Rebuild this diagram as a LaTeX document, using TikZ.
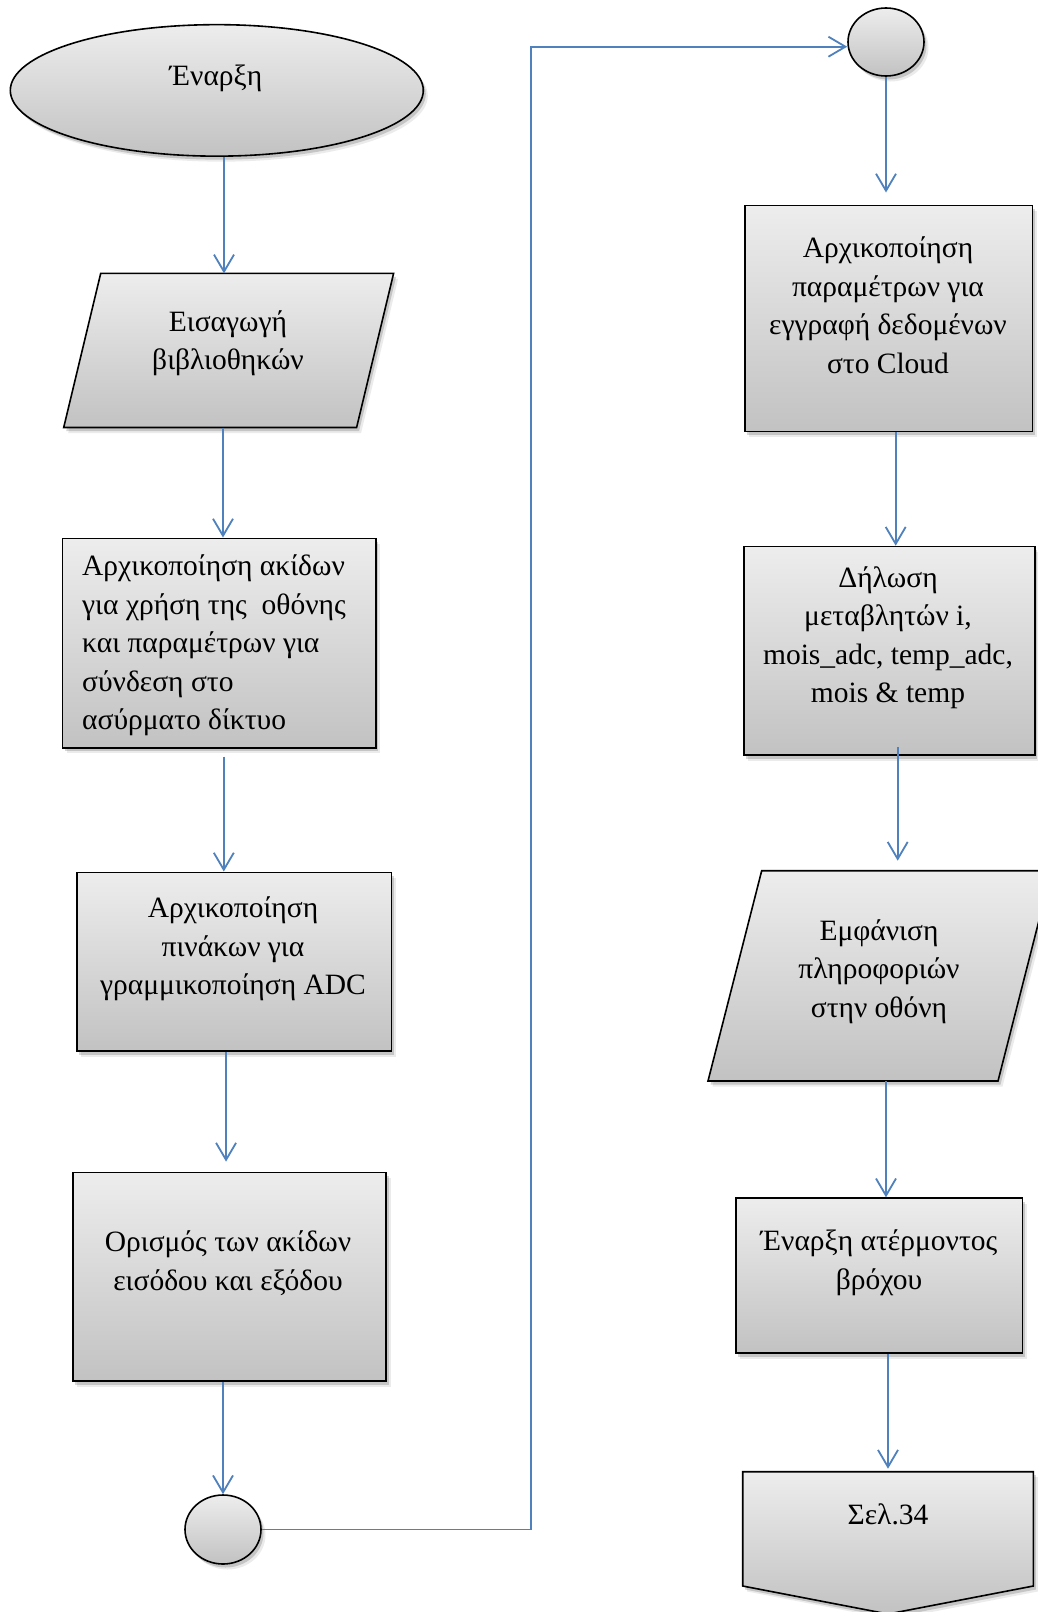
\documentclass[tikz,border=0pt]{standalone}
\usepackage{fontspec}
\setmainfont{Liberation Serif}
\usetikzlibrary{arrows.meta,shapes.geometric,shadows}
\definecolor{arrblue}{HTML}{4F81BD}
\definecolor{gtop}{HTML}{EDEDED}
\definecolor{gbot}{HTML}{C2C2C2}
\begin{document}
\begin{tikzpicture}[x=1pt,y=-1pt,
  arr/.style={draw=arrblue, line width=1.8pt, -{Straight Barb[length=17pt,width=20pt,line width=1.8pt]}},
  shp/.style={draw=black, line width=1.6pt, top color=gtop, bottom color=gbot,
    drop shadow={shadow xshift=2.5pt,shadow yshift=-3.5pt,opacity=0.16,fill=black},
    drop shadow={shadow xshift=4.5pt,shadow yshift=-5.5pt,opacity=0.08,fill=black}},
  boxnode/.style={shp, rectangle, inner sep=0pt, anchor=north west},
  ovalnode/.style={shp, ellipse, inner sep=0pt},
  txt/.style={font=\fontsize{29.5}{38.5}\selectfont, align=center, inner sep=0pt, text=black}]
\useasboundingbox (0,0) rectangle (1038,1612);
\fill[white] (0,0) rectangle (1038,1612);
\clip (0,0) rectangle (1038,1612);

% ---- left column ----
\node[ovalnode, minimum width=413pt, minimum height=131.5pt] (ell) at (216.8,90.4) {};
\node[txt] (tell) at (216,78) {Έναρξη};

\path[shp] (100.7,273.4) -- (393.6,273.4) -- (356.6,427.5) -- (63.7,427.5) -- cycle;
\coordinate (p1n) at (224,273.4);
\coordinate (p1s) at (223,427.5);
\node[txt] (tp1) at (228,343) {Εισαγωγή\\βιβλιοθηκών};

\node[boxnode, minimum width=313.4pt, minimum height=209.6pt] (b2) at (61.7,537.5) {};
\node[txt, align=left, anchor=west] (tb2) at (82,645.5) {Αρχικοποίηση ακίδων\\για χρήση της~ οθόνης\\και παραμέτρων για\\σύνδεση στο\\ασύρματο δίκτυο};

\node[boxnode, minimum width=314.5pt, minimum height=178.8pt] (b3) at (76,871.5) {};
\node[txt] (tb3) at (233,949) {Αρχικοποίηση\\πινάκων για\\γραμμικοποίηση ADC};

\node[boxnode, minimum width=313.4pt, minimum height=208.6pt] (b4) at (72,1171.6) {};
\node[txt] (tb4) at (228,1263) {Ορισμός των ακίδων\\εισόδου και εξόδου};

\node[ovalnode, minimum width=76pt, minimum height=69pt] (c1) at (223,1529.5) {};

% ---- right column ----
\node[ovalnode, minimum width=76pt, minimum height=68pt] (c2) at (886,42) {};

\node[boxnode, minimum width=287.8pt, minimum height=226.1pt] (r1) at (744,204.5) {};
\node[txt] (tr1) at (888,305) {Αρχικοποίηση\\παραμέτρων για\\εγγραφή δεδομένων\\στο Cloud};

\node[boxnode, minimum width=290.9pt, minimum height=208.6pt] (r2) at (743,545.7) {};
\node[txt] (tr2) at (888,637.5) {Δήλωση\\μεταβλητών i,\\mois\_adc, temp\_adc,\\mois \& temp};

\path[shp] (761.7,870.7) -- (1051.7,870.7) -- (998,1081) -- (708,1081) -- cycle;
\coordinate (p2n) at (897.7,870.7);
\coordinate (p2s) at (886,1081);
\node[txt] (tp2) at (879,971.5) {Εμφάνιση\\πληροφοριών\\στην οθόνη};

\node[boxnode, minimum width=286.7pt, minimum height=155pt] (r3) at (735,1197.3) {};
\node[txt] (tr3) at (879,1262.5) {Έναρξη ατέρμοντος\\βρόχου};

\path[shp] (742.7,1471.7) -- (1033.3,1471.7) -- (1033.3,1586) -- (888,1614) -- (742.7,1586) -- cycle;
\coordinate (offn) at (888,1471.7);
\node[txt] (toff) at (888,1514) {Σελ.34};

% ---- connectors ----
\draw[arr] (ell.south -| p1n) -- (p1n);
\draw[arr] (p1s) -- (p1s |- b2.north);
\draw[arr] ([xshift=4.6pt,yshift=-8pt]b2.south) -- ([xshift=4.6pt]b2.south |- b3.north);
\draw[arr] ([xshift=-8pt]b3.south) -- ([xshift=-8pt,yshift=10pt]b3.south |- b4.north);
\draw[arr] (b4.south -| c1.north) -- (c1.north);
\draw[arr] (c1.east) -- ++(269,0) |- ([yshift=-4.7pt]c2.west);
\draw[arr] (c2.south) -- ([yshift=12pt]r1.north -| c2.south);
\draw[arr] ([xshift=7pt]r1.south) -- ([xshift=7pt]r1.south |- r2.north);
\draw[arr] ([yshift=9pt]r2.south -| p2n) -- ([yshift=10pt]p2n);
\draw[arr] (p2s) -- (p2s |- r3.north);
\draw[arr] (r3.south -| offn) -- ([yshift=3pt]offn);
\end{tikzpicture}
\end{document}
